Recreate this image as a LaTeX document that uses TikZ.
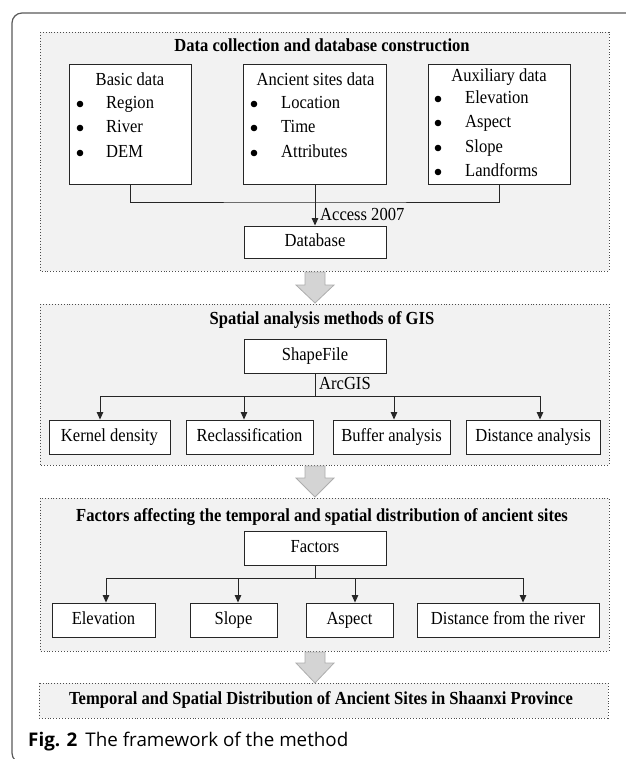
\documentclass[tikz,border=0pt]{standalone}
\usepackage{fontspec}
\setmainfont{Liberation Serif}[FakeStretch=0.9]
\newfontfamily\capfont{Open Sans}
\usetikzlibrary{arrows.meta}
\begin{document}
\begin{tikzpicture}[x=1pt,y=-1pt,
  font=\fontsize{18.4}{21}\selectfont,
  panel/.style={draw=black!70, dotted, line width=0.9pt, fill=black!5},
  box/.style={draw=black!85, line width=0.9pt, fill=white, inner sep=0pt},
  lbl/.style={inner sep=0pt, text height=12.5pt, text depth=4pt},
  ttl/.style={lbl, font=\fontsize{18.4}{21}\selectfont\bfseries},
  dot/.style={circle, fill=black, inner sep=0pt, minimum size=6.6pt},
  conn/.style={line width=0.9pt, draw=black!85},
  arr/.style={conn, -{Triangle[length=7.5pt,width=6.5pt]}},
  garrow/.style={fill=black!17, draw=black!32, line width=0.8pt}]
\useasboundingbox (0,0) rectangle (625,759);
% outer frame
\draw[black!65, line width=1.2pt, rounded corners=10pt] (640,13) -- (12,13) -- (12,763) -- (40,763);
% panels
\path[panel] (40,32) rectangle (609,271);
\path[panel] (40,304) rectangle (609,465);
\path[panel] (40,498) rectangle (609,651);
\path[panel] (39,683) rectangle (608,718);
% titles
\node[ttl] (t1) at (322,47) {Data collection and database construction};
\node[ttl] (t2) at (322,320) {Spatial analysis methods of GIS};
\node[ttl] (t3) at (322,517) {Factors affecting the temporal and spatial distribution of ancient sites};
\node[ttl] (t4) at (321,700) {Temporal and Spatial Distribution of Ancient Sites in Shaanxi Province};
% panel 1 boxes
\node[box, minimum width=122pt, minimum height=120pt] (basic) at (130,124) {};
\node[box, minimum width=143pt, minimum height=120pt] (ancient) at (314.5,124) {};
\node[box, minimum width=142pt, minimum height=120pt] (aux) at (499,124) {};
\node[box, minimum width=142pt, minimum height=32pt] (database) at (315,242) {};
\node[lbl] (databaset) at (database) {Database};
% basic data
\node[lbl] (bt) at (130,81) {Basic data};
\node[dot] (bb1) at (80,104) {};
\node[dot] (bb2) at (80,128) {};
\node[dot] (bb3) at (80,153) {};
\node[lbl, anchor=west] (bi1) at (106,104) {Region};
\node[lbl, anchor=west] (bi2) at (106,128) {River};
\node[lbl, anchor=west] (bi3) at (106,153) {DEM};
% ancient
\node[lbl] (at) at (315.5,81) {Ancient sites data};
\node[dot] (ab1) at (254,104) {};
\node[dot] (ab2) at (254,128) {};
\node[dot] (ab3) at (254,153) {};
\node[lbl, anchor=west] (ai1) at (281,104) {Location};
\node[lbl, anchor=west] (ai2) at (281,128) {Time};
\node[lbl, anchor=west] (ai3) at (281,153) {Attributes};
% auxiliary
\node[lbl] (xt) at (499,77) {Auxiliary data};
\node[dot] (xb1) at (438,99) {};
\node[dot] (xb2) at (438,123) {};
\node[dot] (xb3) at (438,148) {};
\node[dot] (xb4) at (438,172) {};
\node[lbl, anchor=west] (xi1) at (465,99) {Elevation};
\node[lbl, anchor=west] (xi2) at (465,123) {Aspect};
\node[lbl, anchor=west] (xi3) at (465,148) {Slope};
\node[lbl, anchor=west] (xi4) at (465,172) {Landforms};
% panel 1 connectors
\coordinate (j1) at (315,202);
\draw[conn] (basic.south) |- (j1) -| (aux.south);
\draw[arr] (ancient.south -| database.north) -- (database.north);
\node[lbl, anchor=west] (acc) at (320,216) {Access 2007};
% panel 2
\node[box, minimum width=142pt, minimum height=34pt] (shape) at (315,356) {};
\node[lbl] (shapet) at (shape) {ShapeFile};
\node[box, minimum width=121pt, minimum height=34pt] (kernel) at (109.5,437) {};
\node[box, minimum width=127pt, minimum height=34pt] (reclass) at (249.5,437) {};
\node[box, minimum width=117pt, minimum height=34pt] (buffer) at (391.5,437) {};
\node[box, minimum width=134pt, minimum height=34pt] (dista) at (533,437) {};
\node[lbl] (kernelt) at (kernel) {Kernel density};
\node[lbl] (reclasst) at (reclass) {Reclassification};
\node[lbl] (buffert) at (buffer) {Buffer analysis};
\node[lbl] (distat) at (dista) {Distance analysis};
\coordinate (j2) at (315,396);
\coordinate (k1) at (100,396);
\coordinate (k2) at (244,396);
\coordinate (k3) at (394,396);
\coordinate (k4) at (540,396);
\draw[conn] (shape.south) -- (j2);
\draw[conn] (k1) -- (k4);
\draw[arr] (k1) -- (k1 |- kernel.north);
\draw[arr] (k2) -- (k2 |- reclass.north);
\draw[arr] (k3) -- (k3 |- buffer.north);
\draw[arr] (k4) -- (k4 |- dista.north);
\node[lbl, anchor=west] (arcgis) at (319,385) {ArcGIS};
% panel 3
\node[box, minimum width=142pt, minimum height=34pt] (factors) at (315,548) {};
\node[lbl] (factorst) at (factors) {Factors};
\node[box, minimum width=103pt, minimum height=34pt] (elev) at (103.5,620) {};
\node[box, minimum width=87pt, minimum height=34pt] (slope) at (233.5,620) {};
\node[box, minimum width=87pt, minimum height=34pt] (aspect) at (349.5,620) {};
\node[box, minimum width=182pt, minimum height=34pt] (distr) at (508,620) {};
\node[lbl] (elevt) at (elev) {Elevation};
\node[lbl] (slopet) at (slope) {Slope};
\node[lbl] (aspectt) at (aspect) {Aspect};
\node[lbl] (distrt) at (distr) {Distance from the river};
\coordinate (j3) at (315,578);
\coordinate (f1) at (106,578);
\coordinate (f2) at (238,578);
\coordinate (f3) at (355,578);
\coordinate (f4) at (523,578);
\draw[conn] (factors.south) -- (j3);
\draw[conn] (f1) -- (f4);
\draw[arr] (f1) -- (f1 |- elev.north);
\draw[arr] (f2) -- (f2 |- slope.north);
\draw[arr] (f3) -- (f3 |- aspect.north);
\draw[arr] (f4) -- (f4 |- distr.north);
% gray block arrows
\path[garrow] (305,272) -- (325,272) -- (325,285) -- (334,285) -- (315,303) -- (296,285) -- (305,285) -- cycle;
\path[garrow] (305,466) -- (325,466) -- (325,478) -- (334,478) -- (315,497) -- (296,478) -- (305,478) -- cycle;
\path[garrow] (305,652) -- (325,652) -- (325,663) -- (334,663) -- (315,683) -- (296,663) -- (305,663) -- cycle;
% caption
\node[anchor=base west, inner sep=0pt, font=\capfont\fontsize{18.8}{21}\selectfont] (cap) at (28,746) {\textbf{Fig. 2}\hspace{8pt}The framework of the method};
\end{tikzpicture}
\end{document}
